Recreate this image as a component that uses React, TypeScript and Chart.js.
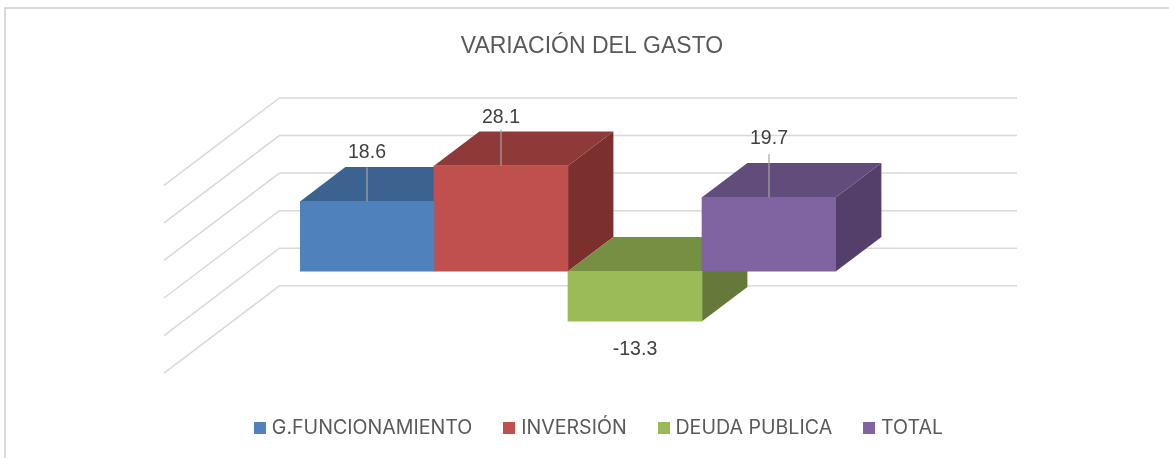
import React, { useEffect, useRef } from "react";
import { Chart, registerables } from "chart.js";

Chart.register(...registerables);

const titleText = "VARIACIÓN DEL GASTO";
const categories = ["Variación"];
const seriesNames = ["G.FUNCIONAMIENTO", "INVERSIÓN", "DEUDA PUBLICA", "TOTAL"];
const seriesValues = [18.6, 28.1, -13.3, 19.7];
const gridTicks = [30, 20, 10, 0, -10, -20];
const frontColors = ["#4F81BD", "#C0504D", "#9BBB59", "#8064A2"];
const topColors = ["#3C6390", "#8F3A38", "#768F42", "#624C7C"];
const sideColors = ["#34557C", "#7C302E", "#64793A", "#533F69"];
const labelLift = [49, 48, -28, 59];
const leaderTop = [34, 36, 0, 43];

const DEPTH_X = 45.4;
const DEPTH_Y = 34.3;
const WALL_X = 80.2; // from bar front plane to back wall
const WALL_Y = 60.6;
const FLOOR_X = 115.4;
const FLOOR_Y = 87.3;
const GRID_RIGHT = 1017;

const poly = (ctx: CanvasRenderingContext2D, pts: number[][], fill: string) => {
  ctx.beginPath();
  pts.forEach((p, i) => (i ? ctx.lineTo(p[0], p[1]) : ctx.moveTo(p[0], p[1])));
  ctx.closePath();
  ctx.fillStyle = fill;
  ctx.fill();
};

const swatch = (color: string) => {
  const c = document.createElement("canvas");
  c.width = 12;
  c.height = 12;
  const g = c.getContext("2d") as CanvasRenderingContext2D;
  g.fillStyle = color;
  g.fillRect(0, 0, 12, 12);
  return c;
};

const box3d = {
  id: "box3d",
  afterLayout(chart: any) {
    chart.legend.left += 8.5;
    chart.legend.right += 8.5;
    chart.legend.top -= 10;
    chart.legend.bottom -= 10;
  },
  beforeDatasetsDraw(chart: any) {
    const { ctx } = chart;
    const y = chart.scales.y;
    ctx.save();
    ctx.strokeStyle = "#D9D9D9";
    ctx.lineWidth = 1.5;
    const first = chart.getDatasetMeta(0).data[0];
    const px = first.x - first.width / 2 - 115.4 + WALL_X + 14.6;
    gridTicks.forEach((t) => {
      const py = y.getPixelForValue(t) - WALL_Y;
      ctx.beginPath();
      ctx.moveTo(px - FLOOR_X, py + FLOOR_Y);
      ctx.lineTo(px, py);
      ctx.lineTo(GRID_RIGHT, py);
      ctx.stroke();
    });
    seriesValues.forEach((_, i) => {
      const el = chart.getDatasetMeta(i).data[0];
      const l = el.x - el.width / 2;
      const r = el.x + el.width / 2;
      const t = Math.min(el.y, el.base);
      const b = Math.max(el.y, el.base);
      poly(ctx, [[r, t], [r + DEPTH_X, t - DEPTH_Y], [r + DEPTH_X, b - DEPTH_Y], [r, b]], sideColors[i]);
      poly(ctx, [[l, t], [l + DEPTH_X, t - DEPTH_Y], [r + DEPTH_X, t - DEPTH_Y], [r, t]], topColors[i]);
    });
    ctx.restore();
  },
  afterDatasetsDraw(chart: any) {
    const { ctx } = chart;
    ctx.save();
    seriesValues.forEach((v, i) => {
      const el = chart.getDatasetMeta(i).data[0];
      if (leaderTop[i]) {
        ctx.strokeStyle = "#A6A6A6";
        ctx.lineWidth = 1.2;
        ctx.beginPath();
        ctx.moveTo(el.x, el.y);
        ctx.lineTo(el.x, el.y - leaderTop[i]);
        ctx.stroke();
      }
      ctx.fillStyle = "#404040";
      ctx.font = '19.5px "Liberation Sans"';
      ctx.textAlign = "center";
      ctx.textBaseline = "middle";
      ctx.fillText(String(v), el.x, el.y - labelLift[i]);
    });
    ctx.restore();
  },
};

export default function App() {
  const ref = useRef<HTMLCanvasElement>(null);
  useEffect(() => {
    const chart = new Chart(ref.current as HTMLCanvasElement, {
      type: "bar",
      plugins: [box3d],
      data: {
        labels: categories,
        datasets: seriesNames.map((name, i) => ({
          label: name,
          data: [seriesValues[i]],
          backgroundColor: frontColors[i],
          borderWidth: 0,
          barPercentage: 1,
          categoryPercentage: 1,
        })),
      },
      options: {
        responsive: false,
        animation: false,
        layout: { padding: { left: 15 } },
        plugins: {
          tooltip: { enabled: false },
          title: {
            display: true,
            text: titleText,
            color: "#595959",
            font: { family: '"Liberation Sans"', size: 23, weight: "normal" },
            padding: { top: 33, bottom: 98 },
          },
          legend: {
            position: "bottom",
            labels: {
              color: "#595959",
              font: { family: "Inter", size: 19.6 },
              usePointStyle: true,
              pointStyleWidth: 4,
              boxHeight: 12,
              padding: 35,
              generateLabels: (c: any) =>
                (Chart.defaults.plugins.legend.labels as any).generateLabels(c).map((item: any, i: number) => ({
                  ...item,
                  pointStyle: swatch(frontColors[i]),
                })),
            },
          },
        },
        scales: {
          x: {
            ticks: { display: false },
            grid: { display: false },
            border: { display: false },
            afterFit: (s: any) => { s.height = 47; },
          },
          y: {
            min: -20,
            max: 30,
            ticks: { display: false },
            grid: { display: false },
            border: { display: false },
            afterFit: (s: any) => { s.width = 285; },
          },
          yRight: {
            position: "right",
            ticks: { display: false },
            grid: { display: false },
            border: { display: false },
            afterFit: (s: any) => { s.width = 333; },
          },
        },
      } as any,
    });
    return () => chart.destroy();
  }, []);
  return (
    <div style={{ position: "fixed", left: 0, top: 0, width: 1169, height: 458, background: "#fff", overflow: "hidden" }}>
      <canvas ref={ref} width={1169} height={458} style={{ display: "block" }} />
      <div style={{ position: "absolute", left: 4, top: 7, right: 0, bottom: -4, borderTop: "2px solid #D9D9D9", borderLeft: "2px solid #D9D9D9" }} />
    </div>
  );
}
